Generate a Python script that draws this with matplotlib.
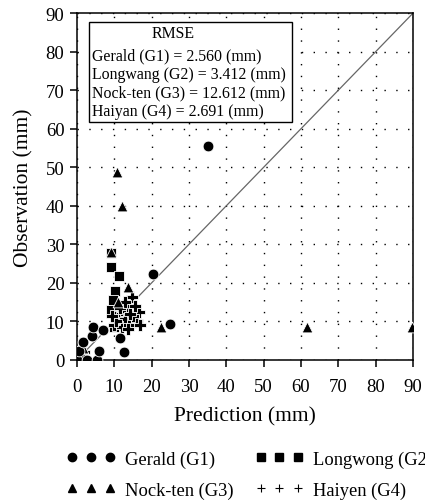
import matplotlib
matplotlib.use("Agg")
import matplotlib.pyplot as plt
from matplotlib.lines import Line2D

plt.rcParams['font.family'] = ['Liberation Serif', 'DejaVu Serif']

# Gerald (G1)
g1_pred = [0, 0.6, 1.5, 2.6, 4.0, 4.3, 5.4, 6.0, 7.0, 11.5, 12.7, 20.5, 24.8, 35.0]
g1_obs = [0, 2.2, 4.7, 0, 6.3, 8.5, 0, 2.2, 7.8, 5.8, 2.0, 22.4, 9.3, 55.6]

# Longwong (G2)
g2_pred = [9.2, 9.0, 11.3, 10.2, 9.7, 9.2, 10.5, 11.5, 13.0, 14.5, 12.0, 15.0, 10.0, 13.5, 1.0]
g2_obs = [27.8, 24.2, 21.8, 17.8, 15.5, 13.0, 11.5, 10.0, 9.0, 9.5, 12.5, 11.5, 8.5, 14.5, 0.5]

# Nock-ten (G3)
g3_pred = [10.7, 12.1, 9.1, 13.7, 22.5, 61.6, 89.7, 1.5, 11.0]
g3_obs = [48.8, 40.0, 28.0, 18.9, 8.6, 8.6, 8.6, 3.0, 15.0]

# Haiyan (G4)
g4_pred = [13.5, 14.8, 12.5, 16.5, 16.0, 10.0, 11.0, 12.0, 13.0, 14.0, 15.0, 11.5,
           12.8, 14.2, 15.5, 10.5, 13.8, 16.8, 9.5, 2.0, 1.0]
g4_obs = [14.0, 16.3, 12.0, 12.5, 10.0, 9.0, 11.0, 8.5, 10.5, 9.0, 11.5, 13.5,
          15.0, 12.0, 14.0, 10.0, 8.0, 9.0, 11.5, 2.0, 1.0]

rmse_lines = ["Gerald (G1) = 2.560 (mm)",
              "Longwang (G2) = 3.412 (mm)",
              "Nock-ten (G3) = 12.612 (mm)",
              "Haiyan (G4) = 2.691 (mm)"]
legend_labels = ["Gerald (G1)", "Longwong (G2)", "Nock-ten (G3)", "Haiyen (G4)"]

fig = plt.figure(figsize=(4.25, 5.02), dpi=100)
ax = fig.add_axes([0.181, 0.281, 0.791, 0.691])

ax.plot([0, 90], [0, 90], color='#666666', lw=0.9, zorder=2)

kw = dict(color='black', edgecolor='white', linewidths=0.6, zorder=3)
ax.scatter(g2_pred, g2_obs, marker='s', s=48, **kw)
ax.scatter(g4_pred, g4_obs, marker='P', s=75, **kw)
ax.scatter(g3_pred, g3_obs, marker='^', s=60, **kw)
ax.scatter(g1_pred, g1_obs, marker='o', s=60, **kw)

ax.set_xlim(0, 90)
ax.set_ylim(0, 90)
ax.set_xticks(range(0, 91, 10))
ax.set_yticks(range(0, 91, 10))
ax.grid(True, color='black', lw=1.0, linestyle=(0, (1, 7.5)))
ax.set_axisbelow(True)
ax.tick_params(direction='out', length=5, width=1.1, labelsize=13.5)
ax.tick_params(axis='x', pad=8)
ax.tick_params(axis='y', pad=4)
for sp in ax.spines.values():
    sp.set_linewidth(1.1)

ax.set_xlabel("Prediction (mm)", fontsize=15.5, labelpad=8)
ax.set_ylabel("Observation (mm)", fontsize=15.5, labelpad=9)

# RMSE box
box = plt.Rectangle((0.036, 0.686), 0.604, 0.288, transform=ax.transAxes,
                    facecolor='white', edgecolor='black', lw=1.0, zorder=4)
ax.add_patch(box)
ax.text(0.286, 0.942, "RMSE", transform=ax.transAxes, ha='center', va='center',
        fontsize=11.4, zorder=5)
for i, line in enumerate(rmse_lines):
    ax.text(0.045, 0.877 - i * 0.053, line, transform=ax.transAxes,
            ha='left', va='center', fontsize=11.4, zorder=5)

handles = [
    Line2D([], [], ls='none', marker='o', color='black', markersize=6),
    Line2D([], [], ls='none', marker='^', color='black', markersize=6),
    Line2D([], [], ls='none', marker='s', color='black', markersize=5.5),
    Line2D([], [], ls='none', marker='+', color='black', markersize=6, mew=0.8),
]
labels = [legend_labels[0], legend_labels[2], legend_labels[1], legend_labels[3]]
fig.legend(handles, labels, ncol=2, numpoints=3, frameon=False,
           loc='upper left', bbox_to_anchor=(0.157, 0.101),
           bbox_transform=fig.transFigure, fontsize=13.3, handlelength=2.65,
           handletextpad=0.5, columnspacing=1.16, labelspacing=0.75,
           borderpad=0, borderaxespad=0)

fig.savefig("out.png", dpi=100)
